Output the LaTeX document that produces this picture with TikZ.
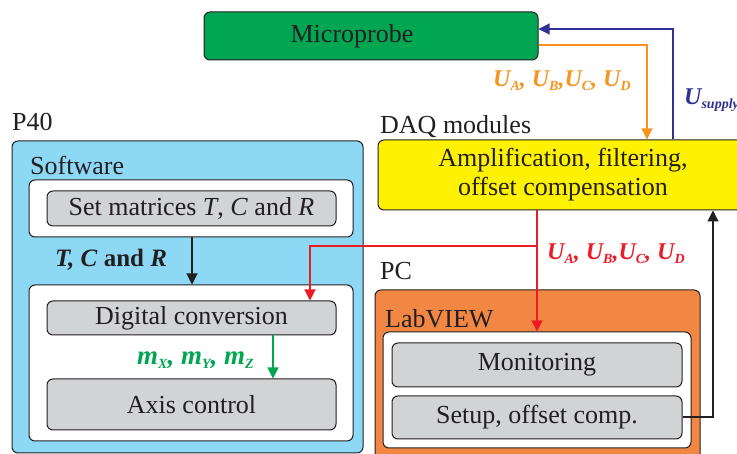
\documentclass[tikz,border=0pt]{standalone}
\usepackage{fontspec}
\setmainfont{Liberation Serif}
\usetikzlibrary{arrows.meta}
\definecolor{probegreen}{RGB}{0,166,81}
\definecolor{ltblue}{RGB}{141,216,245}
\definecolor{yel}{RGB}{255,242,0}
\definecolor{orbox}{RGB}{242,135,68}
\definecolor{grayfill}{RGB}{209,211,212}
\definecolor{orline}{RGB}{247,148,29}
\definecolor{redline}{RGB}{237,28,36}
\definecolor{blueline}{RGB}{46,49,146}
\definecolor{edge}{RGB}{35,31,32}
\tikzset{
  box/.style={draw=edge, line width=1pt, rounded corners=6pt, inner sep=0pt, minimum width=#1},
  txt/.style={font=\fontsize{26}{29}\selectfont, text=edge},
  lab/.style={font=\fontsize{24}{26}\selectfont\bfseries\itshape, inner sep=0pt, anchor=base west},
  conn/.style={line width=1.1pt, -{Triangle[length=11pt,width=11pt]}},
}
\newcommand{\sbs}[1]{\raisebox{-4pt}{\fontsize{14}{14}\selectfont #1}}
\begin{document}
\begin{tikzpicture}[x=1pt,y=-1pt]
\useasboundingbox (0,0) rectangle (737,454);
\begin{scope}
\clip (0,0) rectangle (737,454);
% Microprobe
\node[box=334pt, minimum height=48pt, fill=probegreen] (probe) at (371,36) {};
\node[txt, inner sep=0pt] (probetxt) at (352,36) {Microprobe};
% Yellow DAQ
\node[box=370pt, minimum height=70pt, fill=yel, txt, align=center] (daq) at (563,175) {Amplification, filtering,\\offset compensation};
\node[txt, anchor=base west, inner sep=0pt] (daqlab) at (380,134) {DAQ modules};
% P40
\node[txt, anchor=base west, inner sep=0pt] (p40lab) at (12,131) {P40};
\node[box=351pt, minimum height=312pt, fill=ltblue] (p40) at (187.5,297) {};
\node[txt, anchor=base west, inner sep=0pt] (swlab) at (30,175) {Software};
\node[box=324pt, minimum height=57pt, fill=white] (sw1) at (191,208.5) {};
\node[box=289pt, minimum height=35pt, fill=grayfill, txt] (setm) at (191.5,208.5) {Set matrices \textit{T}, \textit{C} and \textit{R}};
\node[box=324pt, minimum height=156pt, fill=white] (sw2) at (191,363) {};
\node[box=289pt, minimum height=34pt, fill=grayfill, txt] (dig) at (191.5,318) {Digital conversion};
\node[box=289pt, minimum height=51pt, fill=grayfill, txt] (axis) at (191.5,404.5) {Axis control};
% PC
\node[txt, anchor=base west, inner sep=0pt] (pclab) at (380,280) {PC};
\node[box=325pt, minimum height=190pt, fill=orbox] (pc) at (537.5,385) {};
\node[txt, anchor=base west, inner sep=0pt] (lvlab) at (385,328) {LabVIEW};
\node[box=308pt, minimum height=116pt, fill=white] (lv) at (537,390) {};
\node[box=290pt, minimum height=44pt, fill=grayfill, txt] (mon) at (537,365) {Monitoring};
\node[box=290pt, minimum height=43pt, fill=grayfill, txt] (setup) at (537,417.5) {Setup, offset comp.};
% connectors
\coordinate (bl) at (673,29);
\draw[conn, draw=blueline] (daq.north -| bl) |- (probe.east |- bl);
\coordinate (ol) at (647,45);
\draw[conn, draw=orline] (probe.east |- ol) -| (daq.north -| ol);
\coordinate (rl) at (537,246);
\coordinate (rl2) at (310,246);
\draw[conn, draw=redline] (daq.south -| rl) -- (lv.north -| rl);
\draw[conn, draw=redline] (rl) -- (rl2) -- (dig.north -| rl2);
\coordinate (bk) at (713,417);
\draw[conn, draw=edge] (setup.east |- bk) -| (daq.south -| bk);
\coordinate (tc) at (192,240);
\draw[conn, draw=edge] (sw1.south -| tc) -- (sw2.north -| tc);
\coordinate (gl) at (273,300);
\draw[conn, draw=probegreen] (dig.south -| gl) -- (axis.north -| gl);
% labels
\node[lab, text=orline] (ulab1) at (493,87) {U\sbs{A}, U\sbs{B},U\sbs{C}, U\sbs{D}};
\node[lab, text=blueline] (ulab2) at (684,105) {U\sbs{supply}};
\node[lab, text=redline] (ulab3) at (547,260) {U\sbs{A}, U\sbs{B},U\sbs{C}, U\sbs{D}};
\node[lab, text=edge, font=\fontsize{25}{27}\selectfont\bfseries] (tcr) at (55,267) {\textit{T, C} and \textit{R}};
\node[lab, text=probegreen, font=\fontsize{27}{29}\selectfont\bfseries\itshape] (mlab) at (137,365) {m\sbs{X}, m\sbs{Y}, m\sbs{Z}};
\end{scope}
\end{tikzpicture}
\end{document}
